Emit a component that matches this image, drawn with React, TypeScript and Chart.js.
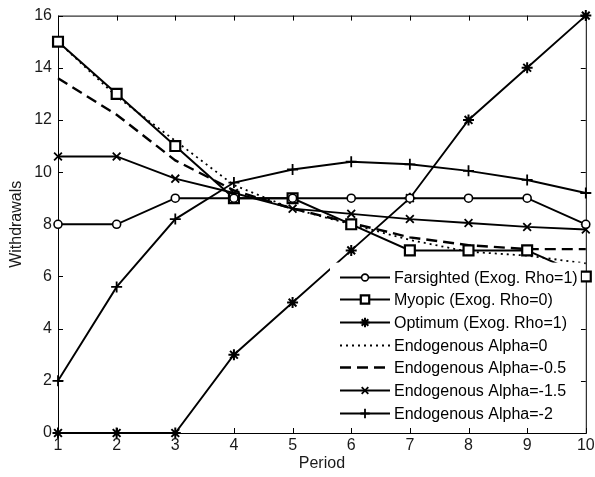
import React, { useEffect, useRef } from 'react';
import { Chart, registerables } from 'chart.js';
import { drawPoint } from 'chart.js/helpers';

Chart.register(...registerables);

// ---- data ----
const periods = [1, 2, 3, 4, 5, 6, 7, 8, 9, 10];
const farsighted = [8, 8, 9, 9, 9, 9, 9, 9, 9, 8];
const myopic = [15, 13, 11, 9, 9, 8, 7, 7, 7, 6];
const optimum = [0, 0, 0, 3, 5, 7, 9, 12, 14, 16];
const alpha0 = [15, 12.9, 11.2, 9.5, 8.6, 8.0, 7.4, 6.95, 6.8, 6.5];
const alphaM05 = [13.6, 12.2, 10.45, 9.3, 8.6, 8.05, 7.5, 7.2, 7.05, 7.05];
const alphaM15 = [10.6, 10.6, 9.75, 9.2, 8.6, 8.4, 8.2, 8.05, 7.9, 7.8];
const alphaM2 = [2, 5.6, 8.2, 9.6, 10.1, 10.4, 10.3, 10.05, 9.7, 9.2];

const seriesLabels = [
  'Farsighted (Exog. Rho=1)',
  'Myopic (Exog. Rho=0)',
  'Optimum (Exog. Rho=1)',
  'Endogenous Alpha=0',
  'Endogenous Alpha=-0.5',
  'Endogenous Alpha=-1.5',
  'Endogenous Alpha=-2',
];
const seriesValues = [farsighted, myopic, optimum, alpha0, alphaM05, alphaM15, alphaM2];

const xTitle = 'Period';
const yTitle = 'Withdrawals';

const FONT = "'Liberation Sans', Arial, Helvetica, sans-serif";

const seriesStyles = [
  { pointStyle: 'circle', pointRadius: 4, pointBorderWidth: 1.6, borderWidth: 1.9, borderDash: [] as number[] },
  { pointStyle: 'rect', pointRadius: 7, pointBorderWidth: 2.2, borderWidth: 2, borderDash: [] as number[] },
  { pointStyle: 'star', pointRadius: 5.5, pointBorderWidth: 2, borderWidth: 1.9, borderDash: [] as number[] },
  { pointStyle: 'circle', pointRadius: 0, pointBorderWidth: 0, borderWidth: 1.8, borderDash: [2, 4] },
  { pointStyle: 'circle', pointRadius: 0, pointBorderWidth: 0, borderWidth: 2.4, borderDash: [11, 6] },
  { pointStyle: 'crossRot', pointRadius: 5.5, pointBorderWidth: 1.8, borderWidth: 1.9, borderDash: [] as number[] },
  { pointStyle: 'cross', pointRadius: 5.5, pointBorderWidth: 1.8, borderWidth: 1.9, borderDash: [] as number[] },
];

const framePlugin = {
  id: 'matlabFrame',
  beforeDatasetsDraw(chart: any) {
    const { ctx, chartArea, scales } = chart;
    const { left, right, top, bottom } = chartArea;
    ctx.save();
    ctx.strokeStyle = '#000';
    ctx.lineWidth = 1;
    ctx.setLineDash([]);
    ctx.strokeRect(left + 0.5, top + 0.5, right - left, bottom - top);
    const tl = 5;
    ctx.beginPath();
    scales.x.ticks.forEach((t: any) => {
      const px = Math.round(scales.x.getPixelForValue(t.value)) + 0.5;
      ctx.moveTo(px, bottom);
      ctx.lineTo(px, bottom - tl);
      ctx.moveTo(px, top);
      ctx.lineTo(px, top + tl);
    });
    scales.y.ticks.forEach((t: any) => {
      const py = Math.round(scales.y.getPixelForValue(t.value)) + 0.5;
      ctx.moveTo(left, py);
      ctx.lineTo(left + tl, py);
      ctx.moveTo(right, py);
      ctx.lineTo(right - tl, py);
    });
    ctx.stroke();
    ctx.restore();
  },
};

const legendPlugin = {
  id: 'insideLegend',
  afterDraw(chart: any) {
    const { ctx, chartArea } = chart;
    const right = chartArea.right - 5;
    const bottom = chartArea.bottom - 6;
    const left = chartArea.left + 272;
    const top = chartArea.top + 247;
    ctx.save();
    ctx.fillStyle = '#fff';
    ctx.fillRect(left, top, right - left, bottom - top);
    const rowH = 22.7;
    chart.data.datasets.forEach((ds: any, i: number) => {
      const y = Math.round(top + 14 + i * rowH) + 0.5;
      const x0 = left + 10;
      const x1 = left + 60;
      ctx.strokeStyle = '#000';
      ctx.lineWidth = ds.borderWidth;
      ctx.setLineDash(ds.borderDash || []);
      ctx.beginPath();
      ctx.moveTo(x0, y);
      ctx.lineTo(x1, y);
      ctx.stroke();
      ctx.setLineDash([]);
      if (ds.pointRadius > 0) {
        ctx.fillStyle = '#fff';
        ctx.strokeStyle = '#000';
        ctx.lineWidth = ds.pointBorderWidth;
        drawPoint(ctx, { pointStyle: ds.pointStyle, radius: ds.pointRadius * 0.85, borderWidth: ds.pointBorderWidth, rotation: 0 } as any, (x0 + x1) / 2, y);
      }
      ctx.fillStyle = '#000';
      ctx.font = `16px ${FONT}`;
      ctx.textBaseline = 'middle';
      ctx.textAlign = 'left';
      ctx.fillText(seriesLabels[i], left + 64, y + 1);
    });
    ctx.restore();
  },
};

export default function App() {
  const canvasRef = useRef<HTMLCanvasElement | null>(null);

  useEffect(() => {
    const canvas = canvasRef.current;
    if (!canvas) return;
    const datasets = seriesValues.map((vals, i) => {
      const st = seriesStyles[i];
      return {
        label: seriesLabels[i],
        data: periods.map((p, j) => ({ x: p, y: vals[j] })),
        borderColor: '#000',
        backgroundColor: '#fff',
        borderWidth: st.borderWidth,
        borderDash: st.borderDash,
        pointStyle: st.pointStyle,
        pointRadius: st.pointRadius,
        pointBorderWidth: st.pointBorderWidth,
        pointBorderColor: '#000',
        pointBackgroundColor: '#fff',
        pointHoverRadius: st.pointRadius,
        tension: 0,
        fill: false,
        clip: false as any,
      };
    });

    const chart = new Chart(canvas, {
      type: 'line',
      data: { datasets: datasets as any },
      options: {
        animation: false,
        responsive: false,
        devicePixelRatio: 1,
        layout: { padding: { left: 0, top: 15, right: 5, bottom: 0 } },
        plugins: {
          legend: { display: false },
          tooltip: { enabled: false },
        },
        scales: {
          x: {
            type: 'linear',
            min: 1,
            max: 10,
            ticks: {
              stepSize: 1,
              color: '#1a1a1a',
              font: { family: FONT, size: 16 },
              padding: 3,
              maxRotation: 0,
              autoSkip: false,
            },
            grid: { display: false, drawTicks: false },
            border: { display: false },
            title: {
              display: true,
              text: xTitle,
              color: '#1a1a1a',
              font: { family: FONT, size: 16 },
              padding: { top: 0, bottom: 4 },
            },
            afterFit: (s: any) => {
              s.height = 44;
              s.paddingLeft = 0;
              s.paddingRight = 0;
            },
          },
          y: {
            type: 'linear',
            min: 0,
            max: 16,
            ticks: {
              stepSize: 2,
              color: '#1a1a1a',
              font: { family: FONT, size: 16 },
              padding: 6,
            },
            grid: { display: false, drawTicks: false },
            border: { display: false },
            title: {
              display: true,
              text: yTitle,
              color: '#1a1a1a',
              font: { family: FONT, size: 16 },
              padding: { top: 7, bottom: 0 },
            },
            afterFit: (s: any) => {
              s.width = 58;
            },
          },
        },
      },
      plugins: [framePlugin, legendPlugin],
    });
    return () => chart.destroy();
  }, []);

  return (
    <div style={{ position: 'fixed', left: 0, top: 0, width: 595, height: 477, background: '#fff' }}>
      <canvas ref={canvasRef} width={595} height={477} style={{ display: 'block' }} />
    </div>
  );
}
